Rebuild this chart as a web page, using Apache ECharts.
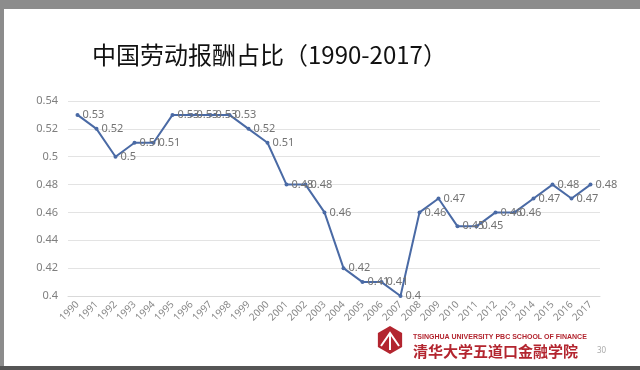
<!DOCTYPE html>
<html>
<head>
<meta charset="utf-8">
<script src="https://cdn.jsdelivr.net/npm/echarts@6/dist/echarts.min.js"></script>
<style>
html,body{margin:0;padding:0;background:#fff;}
#chart{width:640px;height:370px;}
</style>
</head>
<body>
<div id="chart"></div>
<script>
const years = ['1990','1991','1992','1993','1994','1995','1996','1997','1998','1999','2000','2001','2002','2003','2004','2005','2006','2007','2008','2009','2010','2011','2012','2013','2014','2015','2016','2017'];
const laborShare = [0.53,0.52,0.5,0.51,0.51,0.53,0.53,0.53,0.53,0.52,0.51,0.48,0.48,0.46,0.42,0.41,0.41,0.4,0.46,0.47,0.45,0.45,0.46,0.46,0.47,0.48,0.47,0.48];
const titleText = '中国劳动报酬占比（1990-2017）';
const schoolEn = 'TSINGHUA UNIVERSITY PBC SCHOOL OF FINANCE';
const schoolCn = '清华大学五道口金融学院';
const pageNo = '30';

const chart = echarts.init(document.getElementById('chart'), null, {renderer:'canvas'});
const hexPts = [];
for (let i = 0; i < 6; i++) {
  const a = Math.PI / 180 * (60 * i + 30);
  hexPts.push([390 + 14 * Math.cos(a), 340 + 14 * Math.sin(a)]);
}
chart.setOption({
  backgroundColor: '#ffffff',
  animation: false,
  grid: {left: 68, right: 40, top: 101, bottom: 74},
  xAxis: {
    type: 'category',
    data: years,
    boundaryGap: true,
    axisLine: {lineStyle: {color: '#d9d9d9'}},
    axisTick: {show: false},
    axisLabel: {rotate: 45, interval: 0, fontSize: 10, color: '#8a8a8a', fontFamily: 'Noto Sans', margin: 7}
  },
  yAxis: {
    type: 'value',
    min: 0.4, max: 0.54, interval: 0.02,
    axisLine: {show: false},
    axisTick: {show: false},
    splitLine: {lineStyle: {color: '#e3e3e3'}},
    axisLabel: {fontSize: 11, color: '#7f7f7f', fontFamily: 'Noto Sans', margin: 10}
  },
  series: [{
    type: 'line',
    data: laborShare,
    symbol: 'circle',
    symbolSize: 4,
    lineStyle: {color: '#4a6aa5', width: 2},
    itemStyle: {color: '#4a6aa5'},
    label: {show: true, position: 'right', distance: 3, fontSize: 11, color: '#737373', fontFamily: 'Noto Sans'}
  }],
  graphic: [
    {type: 'rect', shape: {x: 0, y: 0, width: 640, height: 9}, style: {fill: '#8c8c8c'}},
    {type: 'rect', shape: {x: 0, y: 0, width: 4, height: 370}, style: {fill: '#8c8c8c'}},
    {type: 'rect', shape: {x: 0, y: 366, width: 640, height: 4}, style: {fill: '#555555'}},
    {type: 'text', left: 92, top: 43, style: {text: titleText, fontSize: 24, fill: '#111111', fontFamily: 'Noto Sans CJK SC'}},
    {type: 'polygon', shape: {points: hexPts}, style: {fill: '#b3252f'}},
    {type: 'polyline', shape: {points: [[381,346],[390,333],[399,346]]}, style: {stroke: '#ffffff', lineWidth: 2, fill: null}},
    {type: 'line', shape: {x1: 390, y1: 333, x2: 390, y2: 350}, style: {stroke: '#ffffff', lineWidth: 2}},
    {type: 'text', left: 413, top: 334, style: {text: schoolEn, fontSize: 7, fontWeight: 'bold', fill: '#b3252f', fontFamily: 'Liberation Sans'}},
    {type: 'text', left: 413, top: 344, style: {text: schoolCn, fontSize: 15, fontWeight: 'bold', fill: '#b3252f', fontFamily: 'Noto Sans CJK SC'}},
    {type: 'text', left: 597, top: 347, style: {text: pageNo, fontSize: 8, fill: '#aaaaaa', fontFamily: 'Noto Sans'}}
  ]
});
</script>
</body>
</html>
